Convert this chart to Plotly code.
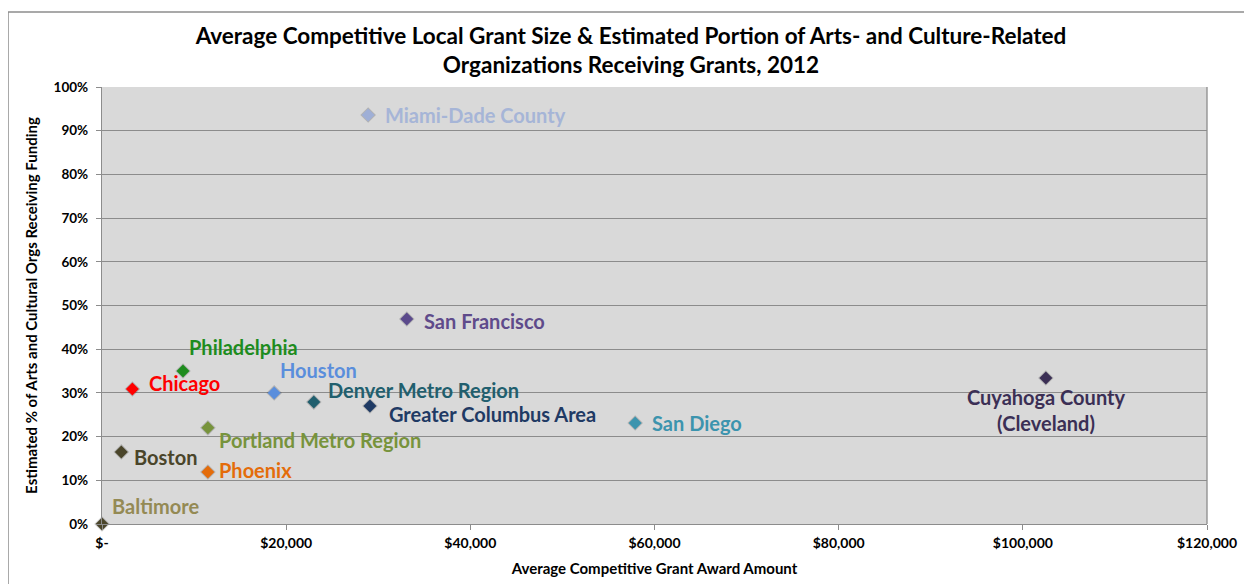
import plotly.graph_objects as go

cities = ["Miami-Dade County", "San Francisco", "Philadelphia", "Chicago", "Houston",
          "Denver Metro Region", "Greater Columbus Area", "San Diego",
          "Cuyahoga County<br>(Cleveland)", "Portland Metro Region", "Boston", "Phoenix", "Baltimore"]
grant_amount = [28900, 33100, 8800, 3300, 18700, 23000, 29100, 57900, 102500, 11500, 2100, 11500, 0]
pct_funded = [0.936, 0.469, 0.350, 0.309, 0.300, 0.279, 0.270, 0.231, 0.334, 0.220, 0.165, 0.119, 0.0]

marker_colors = ["#9FAFD6", "#5B4A8C", "#1E8C1E", "#FF0000", "#5A8EDC", "#215F6E", "#1F3A64",
                 "#3C94AE", "#3B2F55", "#77933C", "#4A452A", "#E46C0A", "#4A452A"]
text_colors = ["#A6B5D7", "#5F4B8B", "#1E8C1E", "#FF0000", "#5A8EDC", "#215F6E", "#1F3A64",
               "#3C94AE", "#3B2F55", "#77933C", "#4A452A", "#E46C0A", "#948A54"]
# label offsets in pixels (xshift, yshift, xanchor)
label_pos = [(15, 0, "left"), (15, -2, "left"), (4, 24, "left"), (15, 6, "left"), (4, 23, "left"),
             (12, 12, "left"), (17, -8, "left"), (15, 0, "left"), (0, -32, "center"),
             (9, -12, "left"), (11, -5, "left"), (9, 2, "left"), (8, 18, "left")]

FONT = "Lato"
W, H = 1246, 576
L, R, T, B = 94, 47, 79, 60
PW, PH = W - L - R, H - T - B

fig = go.Figure()

# shadow layer
fig.add_trace(go.Scatter(
    x=grant_amount, y=pct_funded, mode="markers", cliponaxis=False,
    marker=dict(symbol="diamond", size=12, color="rgba(0,0,0,0.18)"),
    hoverinfo="skip", showlegend=False,
))
fig.add_trace(go.Scatter(
    x=grant_amount, y=pct_funded, mode="markers", cliponaxis=False,
    marker=dict(symbol="diamond", size=10, color=marker_colors, line=dict(width=0)),
    text=cities, showlegend=False,
))

for name, gx, py, col, (xs, ys, xa) in zip(cities, grant_amount, pct_funded, text_colors, label_pos):
    fig.add_annotation(x=gx, y=py, text=name, showarrow=False, xshift=xs, yshift=ys,
                       xanchor=xa, yanchor="middle", align="center",
                       font=dict(family=FONT, size=20, color=col, weight="bold"))

fig.update_layout(
    width=W, height=H,
    margin=dict(l=L, r=R, t=T, b=B),
    paper_bgcolor="white", plot_bgcolor="#D9D9D9",
    title=dict(text="Average Competitive Local Grant Size & Estimated Portion of Arts- and Culture-Related<br>Organizations Receiving Grants, 2012",
               x=0.5, xanchor="center", y=1 - 36 / H, yanchor="top",
               font=dict(family=FONT, size=22.5, color="#000000", weight="bold")),
    font=dict(family=FONT, color="#000000"),
    xaxis=dict(range=[0, 120000], tickvals=[0, 20000, 40000, 60000, 80000, 100000, 120000],
               ticktext=["$-", "$20,000", "$40,000", "$60,000", "$80,000", "$100,000", "$120,000"],
               showgrid=False, zeroline=False, showline=True, linecolor="#8C8C8C", linewidth=1.3,
               ticks="outside", ticklen=5, tickcolor="#8C8C8C", ticklabelstandoff=1,
               automargin=False,
               tickfont=dict(family=FONT, size=14, weight="bold"),
               title=dict(text="Average Competitive Grant Award Amount", standoff=13,
                          font=dict(family=FONT, size=15, weight="bold"))),
    yaxis=dict(range=[0, 1.0], tickvals=[i / 10 for i in range(11)], tickformat=".0%",
               showgrid=True, gridcolor="#8C8C8C", gridwidth=1.3, zeroline=False,
               showline=True, linecolor="#8C8C8C", linewidth=1.3,
               ticks="outside", ticklen=5, tickcolor="#8C8C8C", ticklabelstandoff=5,
               automargin=False,
               tickfont=dict(family=FONT, size=13.5, weight="bold"),
               title=dict(text="Estimated % of Arts and Cultural Orgs Receiving Funding", standoff=12,
                          font=dict(family=FONT, size=15, weight="bold"))),
    shapes=[
        dict(type="line", xref="paper", yref="paper", x0=1.0, x1=1.0, y0=0, y1=1,
             line=dict(color="#8C8C8C", width=1.3)),
        dict(type="line", xref="paper", yref="paper", x0=-(L - 0) / PW, x1=(PW + 37) / PW,
             y0=1 + (T - 4) / PH, y1=1 + (T - 4) / PH,
             line=dict(color="#8C8C8C", width=1.5)),
        dict(type="line", xref="paper", yref="paper", x0=-(L - 0) / PW, x1=-(L - 0) / PW,
             y0=-B / PH, y1=1 + (T - 4) / PH,
             line=dict(color="#8C8C8C", width=1.5)),
    ],
)

fig.write_html("out.html")
